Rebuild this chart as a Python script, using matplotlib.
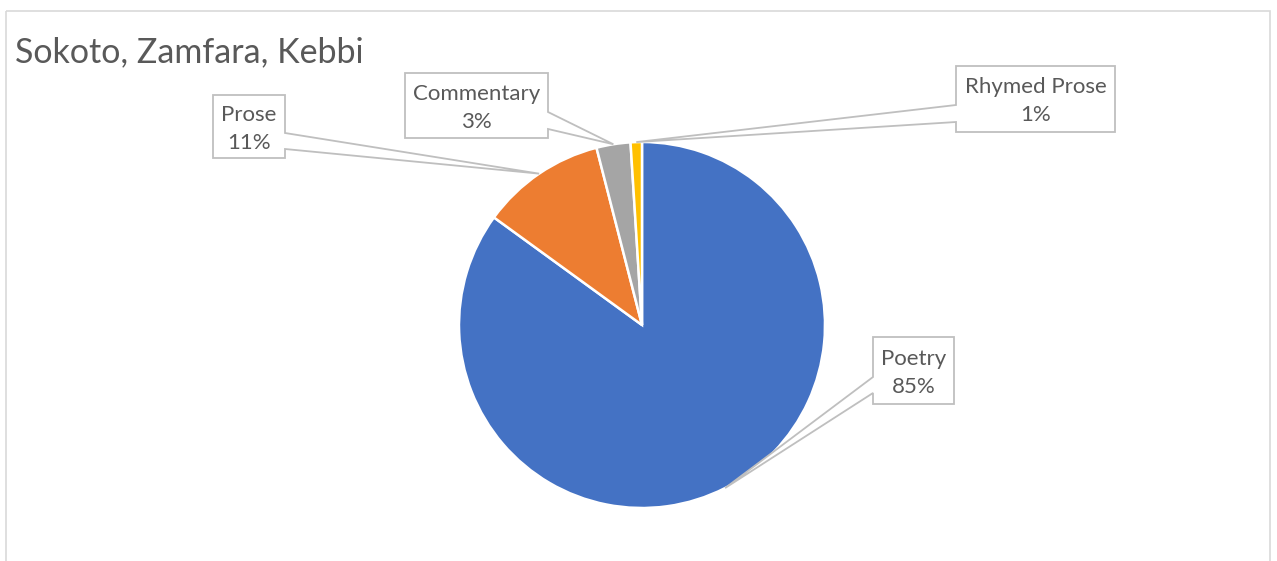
import numpy as np
import matplotlib.pyplot as plt
from matplotlib.patches import Polygon, Rectangle

plt.rcParams['font.family'] = ['Lato', 'DejaVu Sans']

title = 'Sokoto, Zamfara, Kebbi'
categories = ['Poetry', 'Prose', 'Commentary', 'Rhymed Prose']
shares = [85, 11, 3, 1]
colors = ['#4472C4', '#ED7D31', '#A5A5A5', '#FFC000']

# label boxes in pixel space: (left, top, right, bottom), side of the pointer, pointer base y's
boxes = [
    ((873, 337, 954, 404), 'left', (377, 393)),
    ((213, 95, 285, 158), 'right', (133, 149)),
    ((405, 73, 548, 138), 'right', (112, 129)),
    ((956, 66, 1115, 132), 'left', (105, 122)),
]

W, H = 1277, 561
CX, CY, R = 642, 325, 183
TXT = '#595959'
EDGE = '#BFBFBF'

fig = plt.figure(figsize=(W / 100, H / 100), dpi=100)
ax = fig.add_axes([0, 0, 1, 1])

# y axis runs downward, so counterclock=True draws clockwise on screen
wedges, _ = ax.pie(shares, colors=colors, startangle=-90, counterclock=True,
                   center=(CX, CY), radius=R,
                   wedgeprops=dict(edgecolor='white', linewidth=1.8))
ax.set_xlim(0, W)
ax.set_ylim(H, 0)
ax.axis('off')

# chart area frame
ax.add_patch(Rectangle((6, 11), 1264, 600, fill=False, edgecolor='#D9D9D9',
                       linewidth=1.2, zorder=0))

ax.text(15, 52, title, fontsize=24.5, color=TXT, va='center', ha='left')

for w, name, val, (box, side, (ya, yb)) in zip(wedges, categories, shares, boxes):
    mid = np.deg2rad((w.theta1 + w.theta2) / 2)
    tip = (CX + R * np.cos(mid), CY + R * np.sin(mid))
    x0, y0, x1, y1 = box
    if side == 'right':
        pts = [(x0, y0), (x1, y0), (x1, ya), tip, (x1, yb), (x1, y1), (x0, y1)]
    else:
        pts = [(x0, y0), (x1, y0), (x1, y1), (x0, y1), (x0, yb), tip, (x0, ya)]
    ax.add_patch(Polygon(pts, closed=True, facecolor='white', edgecolor=EDGE,
                         linewidth=1.3, zorder=3))
    ax.text((x0 + x1) / 2, (y0 + y1) / 2 + 2, f'{name}\n{val}%', ha='center',
            va='center', fontsize=16, color=TXT, linespacing=1.5, zorder=4)

fig.savefig('out.png', dpi=100)
